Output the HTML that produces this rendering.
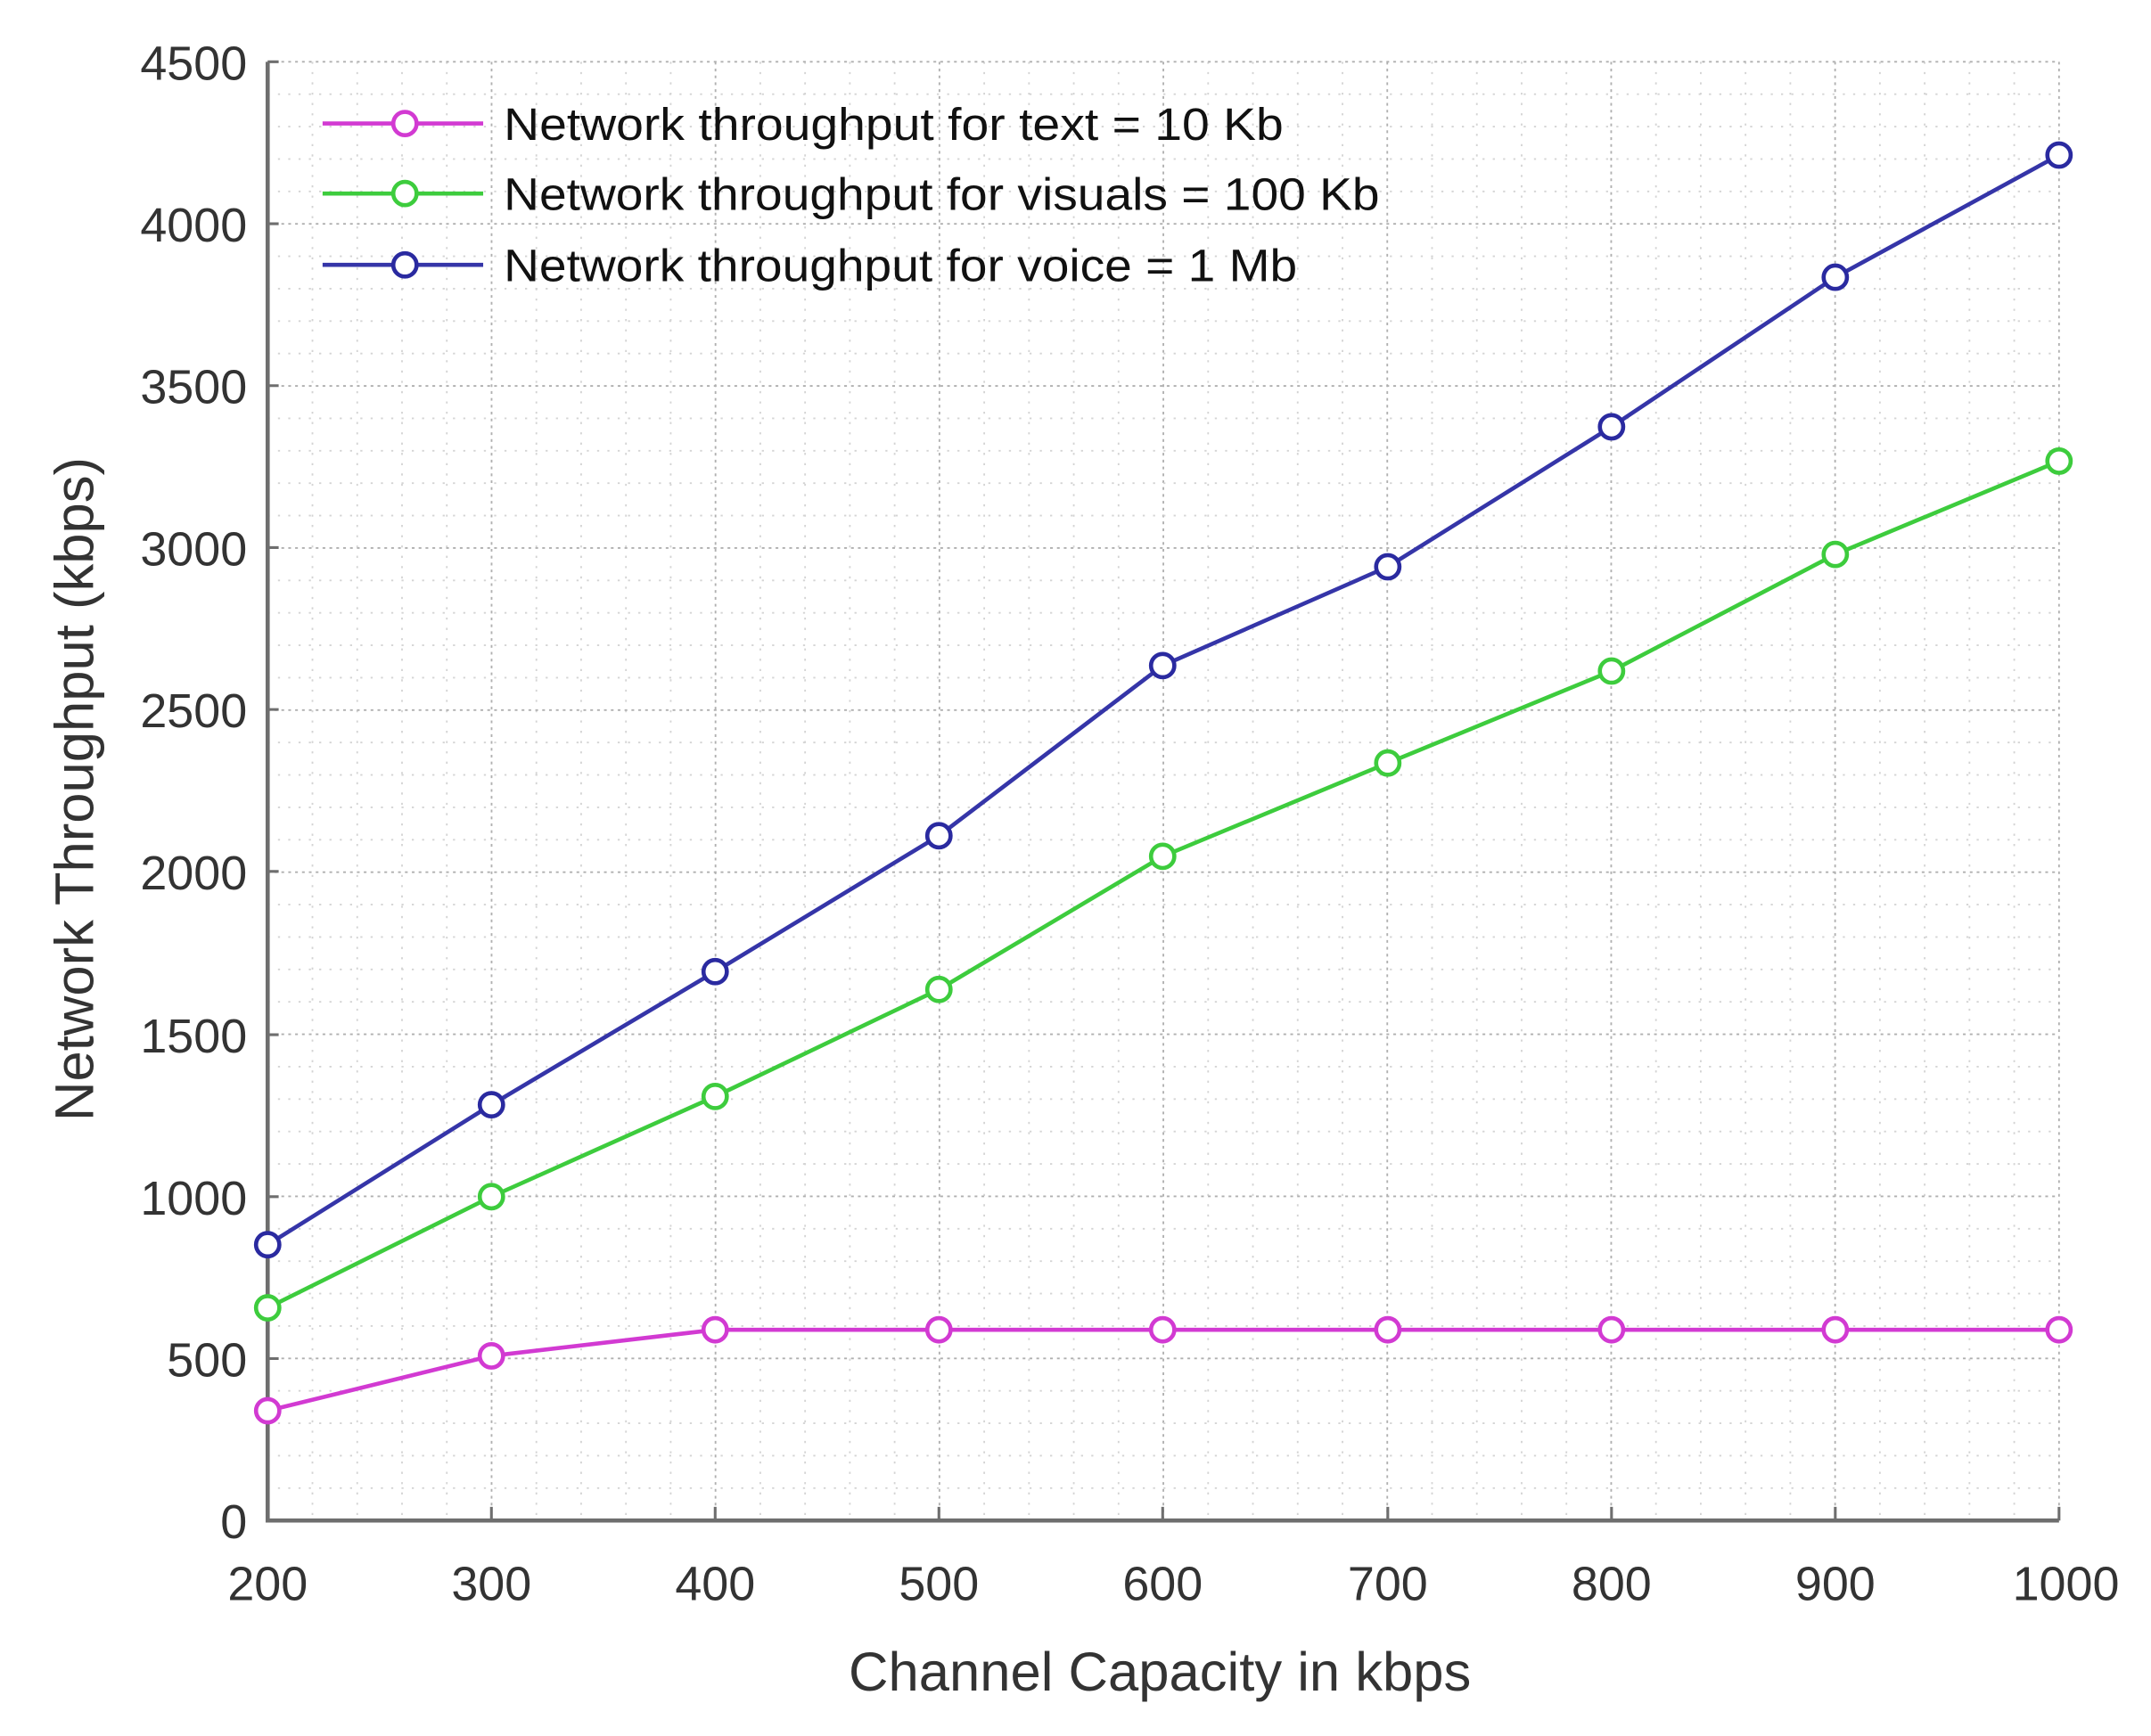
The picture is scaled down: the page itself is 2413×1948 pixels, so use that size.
<!DOCTYPE html>
<html><head><meta charset="utf-8"><style>html,body{margin:0;padding:0;background:#fff}svg{display:block}</style></head>
<body>
<svg width="2413" height="1948" viewBox="0 0 1567 1265" xmlns="http://www.w3.org/2000/svg" font-family="Liberation Sans, sans-serif">
<rect width="1567" height="1265" fill="#fff"/>
<g id="grid" stroke="#c8c8c8" stroke-width="1.2">
</g>
<script>
(function(){
var ns="http://www.w3.org/2000/svg",g=document.getElementById('grid');
var L=195,R=1500,T=45,B=1108;
function ln(x1,y1,x2,y2,c,d){var e=document.createElementNS(ns,'line');e.setAttribute('x1',x1);e.setAttribute('y1',y1);e.setAttribute('x2',x2);e.setAttribute('y2',y2);if(c)e.setAttribute('stroke',c);if(d)e.setAttribute('stroke-dasharray',d);g.appendChild(e);}
for(var i=1;i<=40;i++){var x=L+(R-L)*i/40;ln(x,T,x,B,i%5==0?'#b0b0b0':'#d4d4d4',i%5==0?'2 3':'1.5 6');}
for(var j=1;j<=45;j++){var y=B-(B-T)*j/45;ln(L,y,R,y,j%5==0?'#b0b0b0':'#d4d4d4',j%5==0?'2 3':'1.5 6');}
})();
</script>
<g stroke="#6e6e6e" stroke-width="3" fill="none">
<path d="M195,45 V1108 H1500"/>
<path d="M195,163 h8 M195,281 h8 M195,399 h8 M195,517 h8 M195,635 h8 M195,754 h8 M195,872 h8 M195,990 h8 M195,45 h8" stroke-width="2"/>
<path d="M358,1108 v-10 M521,1108 v-10 M684,1108 v-10 M847,1108 v-10 M1011,1108 v-10 M1174,1108 v-10 M1337,1108 v-10 M1500,1108 v-10" stroke-width="2"/>
</g>
<g font-size="35" fill="#333" text-anchor="end">
<text x="180" y="58">4500</text><text x="180" y="176">4000</text><text x="180" y="294">3500</text><text x="180" y="412">3000</text><text x="180" y="530">2500</text><text x="180" y="648">2000</text><text x="180" y="767">1500</text><text x="180" y="885">1000</text><text x="180" y="1003">500</text><text x="180" y="1121">0</text>
</g>
<g font-size="35" fill="#333" text-anchor="middle">
<text x="195" y="1166">200</text><text x="358" y="1166">300</text><text x="521" y="1166">400</text><text x="684" y="1166">500</text><text x="847" y="1166">600</text><text x="1011" y="1166">700</text><text x="1174" y="1166">800</text><text x="1337" y="1166">900</text><text x="1505" y="1166">1000</text>
</g>
<text x="845" y="1232" font-size="40" fill="#333" text-anchor="middle">Channel Capacity in kbps</text>
<text transform="translate(68,575) rotate(-90)" font-size="40" fill="#333" text-anchor="middle">Network Throughput (kbps)</text>
<g fill="#fff" stroke-width="3">
<polyline fill="none" stroke="#d23ad2" points="195,1028 358,988 521,969 684,969 847,969 1011,969 1174,969 1337,969 1500,969"/>
<polyline fill="none" stroke="#3dcc3d" points="195,953 358,872 521,799 684,721 847,624 1011,556 1174,489 1337,404 1500,336"/>
<polyline fill="none" stroke="#3535a8" points="195,907 358,805 521,708 684,609 847,485 1011,413 1174,311 1337,202 1500,113"/>
<g stroke="#d23ad2"><circle cx="195" cy="1028" r="8.5"/><circle cx="358" cy="988" r="8.5"/><circle cx="521" cy="969" r="8.5"/><circle cx="684" cy="969" r="8.5"/><circle cx="847" cy="969" r="8.5"/><circle cx="1011" cy="969" r="8.5"/><circle cx="1174" cy="969" r="8.5"/><circle cx="1337" cy="969" r="8.5"/><circle cx="1500" cy="969" r="8.5"/></g>
<g stroke="#3dcc3d"><circle cx="195" cy="953" r="8.5"/><circle cx="358" cy="872" r="8.5"/><circle cx="521" cy="799" r="8.5"/><circle cx="684" cy="721" r="8.5"/><circle cx="847" cy="624" r="8.5"/><circle cx="1011" cy="556" r="8.5"/><circle cx="1174" cy="489" r="8.5"/><circle cx="1337" cy="404" r="8.5"/><circle cx="1500" cy="336" r="8.5"/></g>
<g stroke="#2a2aa0"><circle cx="195" cy="907" r="8.5"/><circle cx="358" cy="805" r="8.5"/><circle cx="521" cy="708" r="8.5"/><circle cx="684" cy="609" r="8.5"/><circle cx="847" cy="485" r="8.5"/><circle cx="1011" cy="413" r="8.5"/><circle cx="1174" cy="311" r="8.5"/><circle cx="1337" cy="202" r="8.5"/><circle cx="1500" cy="113" r="8.5"/></g>
</g>
<g stroke-width="3" fill="#fff">
<line x1="235" y1="90" x2="352" y2="90" stroke="#d23ad2"/><circle cx="295" cy="90" r="8.5" stroke="#d23ad2"/>
<line x1="235" y1="141" x2="352" y2="141" stroke="#3dcc3d"/><circle cx="295" cy="141" r="8.5" stroke="#3dcc3d"/>
<line x1="235" y1="193" x2="352" y2="193" stroke="#3535a8"/><circle cx="295" cy="193" r="8.5" stroke="#2a2aa0"/>
</g>
<g font-size="33" fill="#111">
<text x="367" y="102" textLength="568" lengthAdjust="spacingAndGlyphs">Network throughput for text = 10 Kb</text>
<text x="367" y="153" textLength="638" lengthAdjust="spacingAndGlyphs">Network throughput for visuals = 100 Kb</text>
<text x="367" y="205" textLength="578" lengthAdjust="spacingAndGlyphs">Network throughput for voice = 1 Mb</text>
</g>
</svg>
</body></html>
